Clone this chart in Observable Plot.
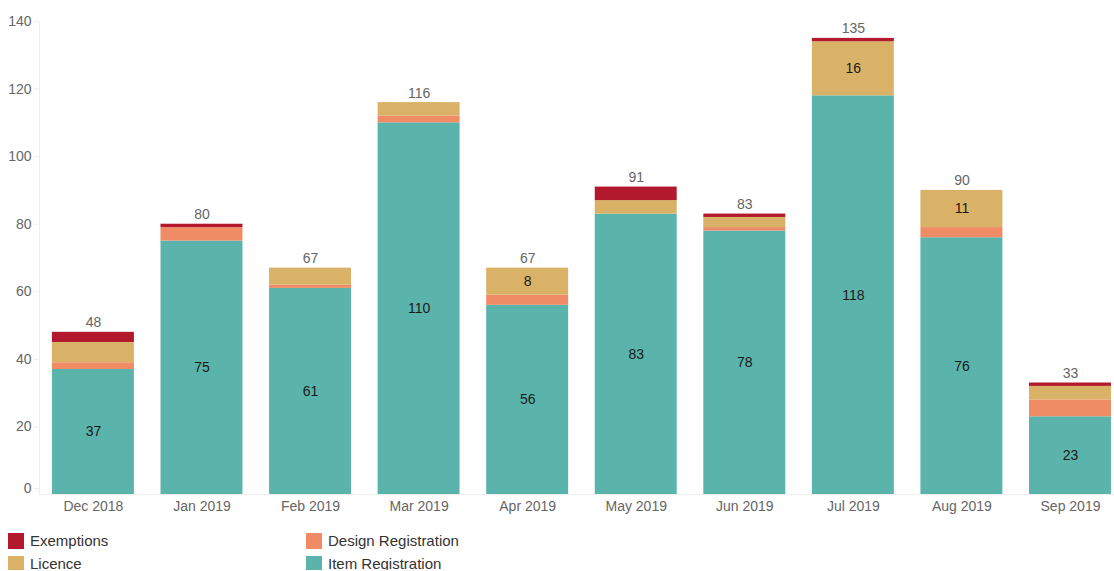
<!DOCTYPE html>
<html>
<head>
<meta charset="utf-8">
<script src="https://cdn.jsdelivr.net/npm/d3@7"></script>
<script src="https://cdn.jsdelivr.net/npm/@observablehq/plot@0.6"></script>
<style>
  body { margin: 0; background: #fff; font-family: "Liberation Sans", Arial, sans-serif; }
  #chart svg { display: block; }
  .legend { position: relative; height: 50px; font-size: 15px; color: #333; }
  .item { position: absolute; display: flex; align-items: center; }
  .sw { width: 16px; height: 16px; margin-right: 6px; }
</style>
</head>
<body>
<div id="chart"></div>
<div class="legend" id="legend"></div>
<script>
const months = ["Dec 2018","Jan 2019","Feb 2019","Mar 2019","Apr 2019","May 2019","Jun 2019","Jul 2019","Aug 2019","Sep 2019"];
const itemRegistration   = [37, 75, 61, 110, 56, 83, 78, 118, 76, 23];
const designRegistration = [2, 4, 1, 2, 3, 0, 1, 0, 3, 5];
const licence            = [6, 0, 5, 4, 8, 4, 3, 16, 11, 4];
const exemptions         = [3, 1, 0, 0, 0, 4, 1, 1, 0, 1];
const seriesNames = ["Item Registration", "Design Registration", "Licence", "Exemptions"];
const seriesColors = ["#5ab4ac", "#ef8b65", "#d9b267", "#b3192d"];
const yTicks = [0, 20, 40, 60, 80, 100, 120, 140];

const seriesValues = [itemRegistration, designRegistration, licence, exemptions];
const rows = [];
months.forEach((m, i) => {
  seriesNames.forEach((s, k) => rows.push({month: m, series: s, value: seriesValues[k][i]}));
});
const totals = months.map((m, i) => ({month: m, total: seriesValues.reduce((a, v) => a + v[i], 0)}));
const itemLabels = months.map((m, i) => ({month: m, y: itemRegistration[i] / 2, v: itemRegistration[i]}));
const licLabels = months.map((m, i) => ({month: m, y: itemRegistration[i] + designRegistration[i] + licence[i] / 2, v: licence[i]}))
  .filter(d => d.v >= 8);

const chart = Plot.plot({
  width: 1114,
  height: 520,
  marginLeft: 39,
  marginRight: 0,
  marginTop: 21,
  marginBottom: 26,
  style: {fontFamily: "Liberation Sans, Arial, sans-serif", fontSize: "14px", color: "#666"},
  x: {domain: months, paddingInner: 0.245, paddingOuter: 0.0735, align: 0.81, round: false, label: null},
  y: {domain: [0, 140], label: null},
  color: {domain: seriesNames, range: seriesColors},
  marks: [
    Plot.frame({anchor: "left", stroke: "#eee"}),
    Plot.ruleY([0], {stroke: "#eee"}),
    Plot.axisY({ticks: yTicks.filter(t => t > 0), tickSize: 5, tickPadding: 3, stroke: "#eee", fill: "#666", fontSize: 14, label: null}),
    Plot.axisY({ticks: [0], tickSize: 5, tickPadding: 3, stroke: "#eee", fill: "#666", fontSize: 14, dy: -6, label: null}),
    Plot.axisX({tickSize: 0, tickPadding: 7, fill: "#666", fontSize: 14, label: null}),
    Plot.barY(rows, Plot.stackY({x: "month", y: "value", fill: "series", order: seriesNames})),
    Plot.text(itemLabels, {x: "month", y: "y", text: "v", fill: "#1a1a1a", fontSize: 14}),
    Plot.text(licLabels, {x: "month", y: "y", text: "v", fill: "#1a1a1a", fontSize: 14}),
    Plot.text(totals, {x: "month", y: "total", text: "total", fill: "#666", fontSize: 14, lineAnchor: "bottom", dy: -5})
  ]
});
document.getElementById("chart").appendChild(chart);

const legendItems = [
  {name: "Exemptions", color: seriesColors[3], left: 8, top: 12},
  {name: "Design Registration", color: seriesColors[1], left: 306, top: 12},
  {name: "Licence", color: seriesColors[2], left: 8, top: 35},
  {name: "Item Registration", color: seriesColors[0], left: 306, top: 35}
];
const lg = document.getElementById("legend");
legendItems.forEach(d => {
  const el = document.createElement("div");
  el.className = "item";
  el.style.left = d.left + "px";
  el.style.top = d.top + "px";
  el.innerHTML = `<div class="sw" style="background:${d.color}"></div><span>${d.name}</span>`;
  lg.appendChild(el);
});
</script>
</body>
</html>
